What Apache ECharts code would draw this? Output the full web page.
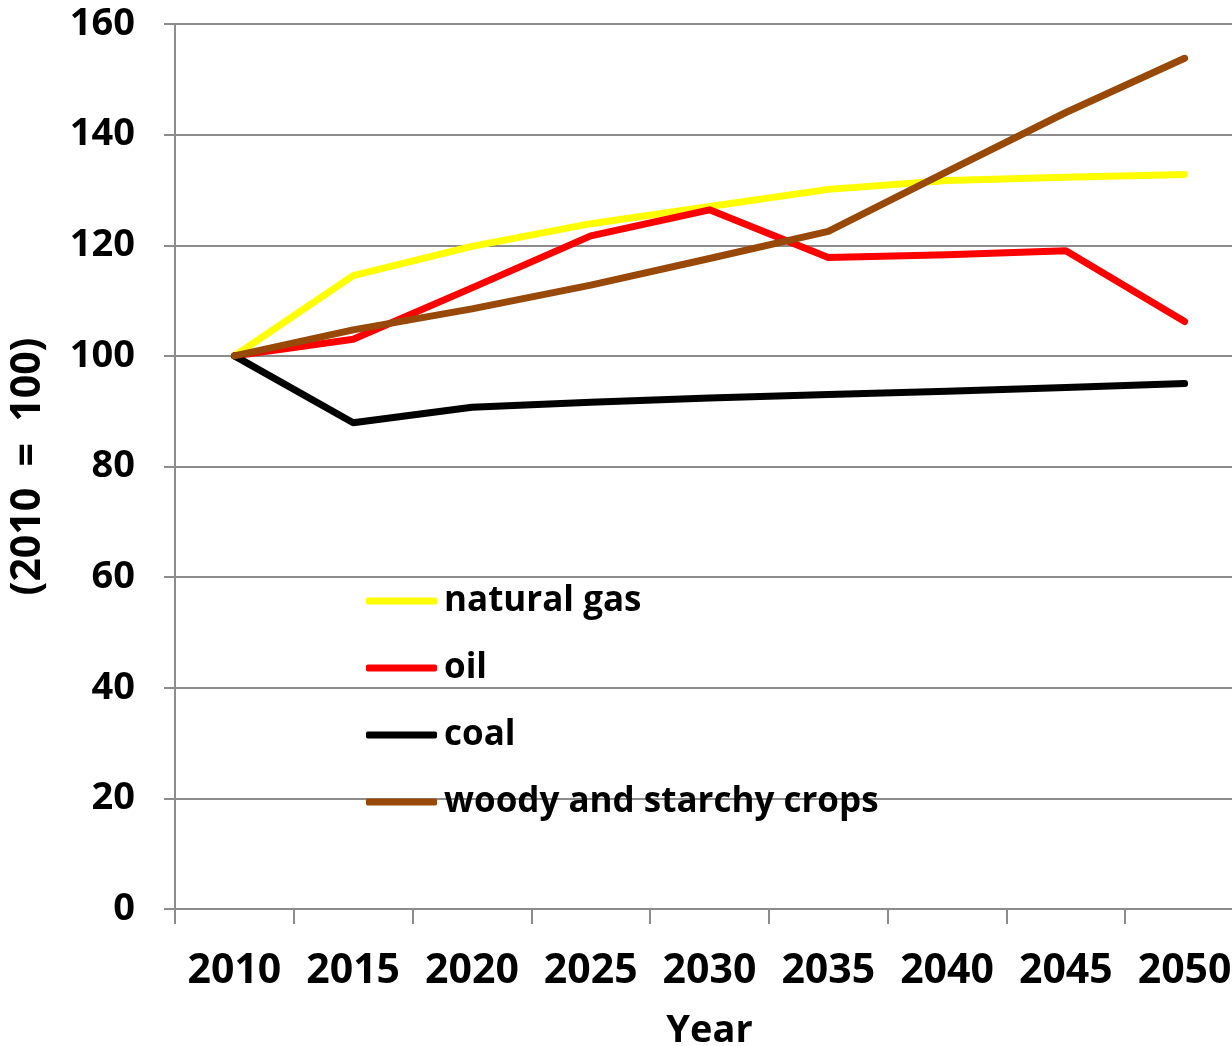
<!DOCTYPE html>
<html>
<head>
<meta charset="utf-8">
<title>Fuel price index</title>
<script src="https://cdn.jsdelivr.net/npm/echarts@6/dist/echarts.min.js"></script>
<style>
  html, body { margin: 0; padding: 0; background: #ffffff; }
  #chart { width: 1232px; height: 1046px; }
</style>
</head>
<body>
<div id="chart"></div>
<script>
// Years on the horizontal axis
const years = ['2010', '2015', '2020', '2025', '2030', '2035', '2040', '2045', '2050'];

// Index values, 2010 = 100
const naturalGas = [100, 114.5, 119.8, 123.9, 127.0, 130.1, 131.7, 132.3, 132.8];
const oil        = [100, 103.0, 112.3, 121.7, 126.4, 117.8, 118.3, 119.0, 106.2];
const coal       = [100, 87.9, 90.7, 91.6, 92.4, 93.0, 93.6, 94.3, 95.0];
const woodyCrops = [100, 104.7, 108.5, 112.8, 117.6, 122.5, 133.3, 144.0, 153.8];

const seriesNames = ['natural gas', 'oil', 'coal', 'woody and starchy crops'];
const seriesColors = ['#FFFF00', '#FF0000', '#000000', '#984807'];
const seriesData = [naturalGas, oil, coal, woodyCrops];

const fontFamily = '"Open Sans", "Noto Sans", sans-serif';
const gridGrey = '#8c8c8c';

const chart = echarts.init(document.getElementById('chart'), null, { renderer: 'canvas' });

chart.setOption({
  animation: false,
  backgroundColor: '#ffffff',
  textStyle: { fontFamily: fontFamily, fontWeight: 'bold', color: '#000' },
  grid: {
    left: 175, top: 24, width: 1069, height: 885,
    containLabel: false,
    outerBoundsMode: 'none'
  },
  legend: {
    orient: 'vertical',
    left: 366,
    top: 581,
    padding: 0,
    itemWidth: 71,
    itemHeight: 7,
    itemGap: 27,
    icon: 'roundRect',
    data: seriesNames,
    textStyle: {
      fontFamily: fontFamily,
      fontWeight: 'bold',
      fontSize: 35,
      color: '#000',
      lineHeight: 40,
      padding: [0, 0, 0, 2]
    }
  },
  xAxis: {
    type: 'category',
    data: years,
    boundaryGap: true,
    name: 'Year',
    nameLocation: 'middle',
    nameGap: 103,
    nameTextStyle: { fontFamily: fontFamily, fontWeight: 'bold', fontSize: 38, color: '#000' },
    axisLine: { show: true, lineStyle: { color: gridGrey, width: 2 } },
    axisTick: { show: true, length: 15, lineStyle: { color: gridGrey, width: 2 }, alignWithLabel: false },
    axisLabel: {
      margin: 42,
      fontFamily: fontFamily,
      fontWeight: 'bold',
      fontSize: 41,
      color: '#000',
      interval: 0
    },
    splitLine: { show: false }
  },
  yAxis: {
    type: 'value',
    min: 0,
    max: 160,
    interval: 20,
    name: '(2010  =  100)',
    nameLocation: 'middle',
    nameRotate: 90,
    nameGap: 126,
    nameTextStyle: { fontFamily: fontFamily, fontWeight: 'bold', fontSize: 41, color: '#000' },
    axisLine: { show: true, lineStyle: { color: gridGrey, width: 2 } },
    axisTick: { show: true, length: 11, lineStyle: { color: gridGrey, width: 2 } },
    axisLabel: {
      margin: 40,
      fontFamily: fontFamily,
      fontWeight: 'bold',
      fontSize: 38,
      color: '#000'
    },
    splitLine: { show: true, lineStyle: { color: gridGrey, width: 2 } }
  },
  series: seriesNames.map((name, i) => ({
    name: name,
    type: 'line',
    data: seriesData[i],
    symbol: 'none',
    showSymbol: false,
    smooth: false,
    color: seriesColors[i],
    itemStyle: { color: seriesColors[i] },
    lineStyle: { color: seriesColors[i], width: 7, cap: 'round', join: 'round' },
    z: 2 + i
  }))
});
</script>
</body>
</html>
